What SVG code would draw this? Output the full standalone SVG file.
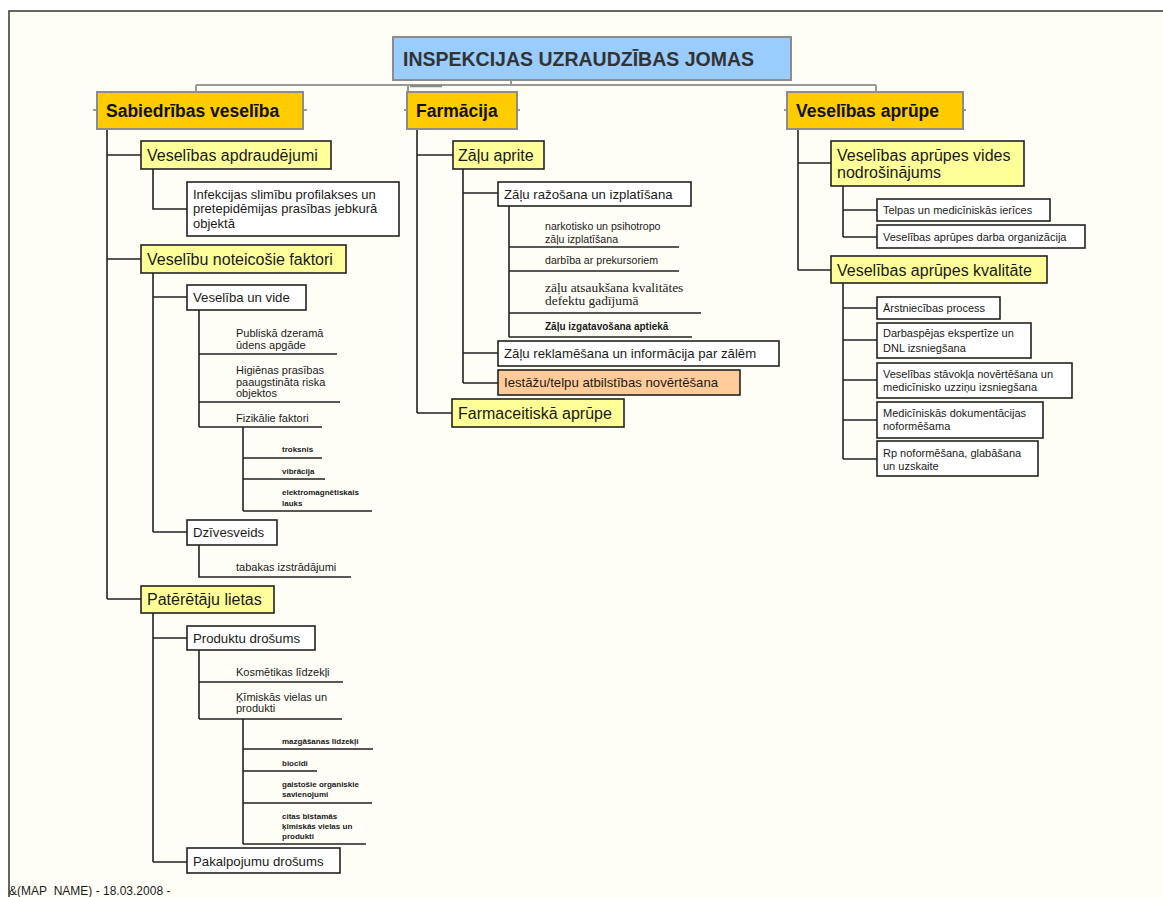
<svg xmlns="http://www.w3.org/2000/svg" width="1163" height="897" viewBox="0 0 1163 897">
<style>
text{font-family:"Liberation Sans",Arial,sans-serif;fill:#1a1a1a}
.root{fill:#99ccff;stroke:#8c8c8c;stroke-width:2}
.l1{fill:#ffcc00;stroke:#8c8c8c;stroke-width:2}
.l2{fill:#ffff99;stroke:#222;stroke-width:1.6}
.wb{fill:#ffffff;stroke:#222;stroke-width:1.6}
.pk{fill:#ffcc99;stroke:#222;stroke-width:1.6}
.t0{font-size:19.5px;font-weight:bold;fill:#333}
.t1{font-size:17.5px;font-weight:bold;fill:#111}
.t2{font-size:16px}
.t3{font-size:13.2px}
.t4{font-size:13px}
.t5{font-size:11px}
.t5b{font-size:10.6px}
.t5c{font-size:10px;font-weight:bold}
.t6{font-size:8px;font-weight:bold}
.ser{font-family:"Liberation Serif","Times New Roman",serif;font-size:13.4px}
.gc{stroke:#999;stroke-width:2;fill:none}
.bc{stroke:#222;stroke-width:1.6;fill:none}
</style>
<rect x="0" y="0" width="1163" height="897" fill="#ffffff"/>
<rect x="9" y="11" width="1154" height="886" fill="#fffef6"/>
<path d="M9,897 V11 H1163" fill="none" stroke="#333" stroke-width="1.5"/>

<g id="connectors">
  <path class="gc" d="M511,80 V85 M196,85 H876 M196,85 V92 M408,85 V92 M876,85 V92"/>
  <path d="M410,86 H442" stroke="#888" stroke-width="2.5"/>
  <path class="gc" d="M93,110 H97 M303,110 H307 M404,110 H407 M517,110 H520 M784,110 H787 M963,110 H966"/>
  <path class="bc" d="M107,129 V599 M107,155 H141 M107,259 H141 M107,599 H141"/>
  <path class="bc" d="M153,169 V209 H187"/>
  <path class="bc" d="M153,273 V532 M153,297 H187 M153,532 H187"/>
  <path class="bc" d="M199,310 V427 M199,354 H337 M199,402 H340 M199,427 H322"/>
  <path class="bc" d="M243,427 V511 M243,458 H322 M243,479 H325 M243,511 H372"/>
  <path class="bc" d="M199,545 V577 H351"/>
  <path class="bc" d="M153,613 V862 M153,638 H187 M153,862 H187"/>
  <path class="bc" d="M199,650 V719 M199,682 H343 M199,719 H342"/>
  <path class="bc" d="M243,719 V844 M243,749 H373 M243,771 H317 M243,803 H372 M243,844 H366"/>
  <path class="bc" d="M417,129 V413 M417,155 H453 M417,413 H452"/>
  <path class="bc" d="M463,169 V383 M463,193 H498 M463,353 H498 M463,383 H498"/>
  <path class="bc" d="M509,206 V337 M509,247 H679 M509,271 H679 M509,313 H701 M509,337 H692"/>
  <path class="bc" d="M798,129 V270 M798,163 H831 M798,270 H831"/>
  <path class="bc" d="M843,186 V237 M843,210 H877 M843,237 H877"/>
  <path class="bc" d="M843,283 V459 M843,308 H877 M843,340 H877 M843,380 H877 M843,420 H877 M843,459 H877"/>
</g>

<g id="root"><rect class="root" x="393" y="37" width="398" height="43"/><text class="t0" x="403" y="65.5">INSPEKCIJAS UZRAUDZĪBAS JOMAS</text></g>

<g id="sabiedribas"><rect class="l1" x="97" y="92" width="206" height="37"/><text class="t1" x="106" y="116.5">Sabiedrības veselība</text></g>
<g id="farmacija"><rect class="l1" x="407" y="92" width="110" height="37"/><text class="t1" x="416" y="116.5">Farmācija</text></g>
<g id="veselibas-aprupe"><rect class="l1" x="787" y="92" width="176" height="37"/><text class="t1" x="796" y="116.5">Veselības aprūpe</text></g>

<g id="apdraudejumi"><rect class="l2" x="141" y="141" width="190" height="28"/><text class="t2" x="147" y="160.5">Veselības apdraudējumi</text></g>
<g id="infekcijas"><rect class="wb" x="187" y="182" width="212" height="54"/><text class="t4" x="193" y="198.5">Infekcijas slimību profilakses un<tspan x="193" dy="14">pretepidēmijas prasības jebkurā</tspan><tspan x="193" dy="15">objektā</tspan></text></g>
<g id="noteicosie"><rect class="l2" x="141" y="245" width="205" height="28"/><text class="t2" x="147" y="264.5">Veselību noteicošie faktori</text></g>
<g id="vide"><rect class="wb" x="187" y="285" width="119" height="25"/><text class="t3" x="193" y="302">Veselība un vide</text></g>
<g id="publiska"><text class="t5" x="236" y="337">Publiskā dzeramā<tspan x="236" dy="12">ūdens apgāde</tspan></text></g>
<g id="higienas"><text class="t5" x="236" y="374">Higiēnas prasības<tspan x="236" dy="12">paaugstināta riska</tspan><tspan x="236" dy="11">objektos</tspan></text></g>
<g id="fizikalie"><text class="t5" x="236" y="422">Fizikālie faktori</text></g>
<g id="troksnis"><text class="t6" x="282" y="452">troksnis</text></g>
<g id="vibracija"><text class="t6" x="282" y="474">vibrācija</text></g>
<g id="elektro"><text class="t6" x="282" y="495">elektromagnētiskais<tspan x="282" dy="11">lauks</tspan></text></g>
<g id="dzivesveids"><rect class="wb" x="187" y="520" width="90" height="25"/><text class="t3" x="193" y="537">Dzīvesveids</text></g>
<g id="tabakas"><text class="t5" x="236" y="571">tabakas izstrādājumi</text></g>
<g id="pateretaju"><rect class="l2" x="141" y="586" width="133" height="27"/><text class="t2" x="147" y="605">Patērētāju lietas</text></g>
<g id="produktu"><rect class="wb" x="187" y="626" width="128" height="24"/><text class="t3" x="193" y="643">Produktu drošums</text></g>
<g id="kosmetikas"><text class="t5" x="236" y="676">Kosmētikas līdzekļi</text></g>
<g id="kimiskas"><text class="t5" x="236" y="701">Ķīmiskās vielas un<tspan x="236" dy="11">produkti</tspan></text></g>
<g id="mazgasanas"><text class="t6" x="282" y="744">mazgāšanas līdzekļi</text></g>
<g id="biocidi"><text class="t6" x="282" y="766">biocīdi</text></g>
<g id="gaistosie"><text class="t6" x="282" y="787">gaistošie organiskie<tspan x="282" dy="10">savienojumi</tspan></text></g>
<g id="citas"><text class="t6" x="282" y="819">citas bīstamās<tspan x="282" dy="10">ķīmiskās vielas un</tspan><tspan x="282" dy="10">produkti</tspan></text></g>
<g id="pakalpojumu"><rect class="wb" x="187" y="848" width="153" height="25"/><text class="t3" x="193" y="866">Pakalpojumu drošums</text></g>

<g id="zalu-aprite"><rect class="l2" x="453" y="141" width="91" height="28"/><text class="t2" x="458" y="160.5">Zāļu aprite</text></g>
<g id="razosana"><rect class="wb" x="498" y="182" width="193" height="24"/><text class="t3" x="504" y="199">Zāļu ražošana un izplatīšana</text></g>
<g id="narkotisko"><text class="t5b" x="545" y="229.5">narkotisko un psihotropo<tspan x="545" dy="13">zāļu izplatīšana</tspan></text></g>
<g id="darbiba"><text class="t5b" x="545" y="263.5">darbība ar prekursoriem</text></g>
<g id="atsauksana"><text class="ser" x="545" y="292">zāļu atsaukšana kvalitātes<tspan x="545" dy="13">defektu gadījumā</tspan></text></g>
<g id="izgatavosana"><text class="t5c" x="545" y="329.5">Zāļu izgatavošana aptiekā</text></g>
<g id="reklamesana"><rect class="wb" x="498" y="341" width="281" height="25"/><text class="t3" x="504" y="358">Zāļu reklamēšana un informācija par zālēm</text></g>
<g id="iestazu"><rect class="pk" x="498" y="370" width="242" height="25"/><text class="t3" x="504" y="387">Iestāžu/telpu atbilstības novērtēšana</text></g>
<g id="farmaceitiska"><rect class="l2" x="452" y="399" width="172" height="28"/><text class="t2" x="458" y="418.5">Farmaceitiskā aprūpe</text></g>

<g id="vides-nodrosinajums"><rect class="l2" x="831" y="141" width="193" height="45"/><text class="t2" x="837" y="160.5">Veselības aprūpes vides<tspan x="837" dy="17">nodrošinājums</tspan></text></g>
<g id="telpas"><rect class="wb" x="877" y="199" width="173" height="22"/><text class="t5" x="883" y="214">Telpas un medicīniskās ierīces</text></g>
<g id="darba-org"><rect class="wb" x="877" y="225" width="208" height="23"/><text class="t5" x="883" y="240.5">Veselības aprūpes darba organizācija</text></g>
<g id="kvalitate"><rect class="l2" x="831" y="256" width="216" height="27"/><text class="t2" x="837" y="275.5">Veselības aprūpes kvalitāte</text></g>
<g id="arstniecibas"><rect class="wb" x="877" y="297" width="123" height="22"/><text class="t5" x="883" y="312">Ārstniecības process</text></g>
<g id="darbaspejas"><rect class="wb" x="877" y="323" width="154" height="35"/><text class="t5" x="883" y="337">Darbaspējas ekspertīze un<tspan x="883" dy="15">DNL izsniegšana</tspan></text></g>
<g id="stavokla"><rect class="wb" x="877" y="363" width="195" height="35"/><text class="t5" x="883" y="378">Veselības stāvokļa novērtēšana un<tspan x="883" dy="13">medicīnisko uzziņu izsniegšana</tspan></text></g>
<g id="dokumentacijas"><rect class="wb" x="877" y="402" width="166" height="36"/><text class="t5" x="883" y="417">Medicīniskās dokumentācijas<tspan x="883" dy="13">noformēšama</tspan></text></g>
<g id="rp"><rect class="wb" x="877" y="441" width="161" height="35"/><text class="t5" x="883" y="457">Rp noformēšana, glabāšana<tspan x="883" dy="13">un uzskaite</tspan></text></g>

<text x="9" y="895" style="font-size:12px">&amp;(MAP_NAME) - 18.03.2008 -</text>
</svg>
